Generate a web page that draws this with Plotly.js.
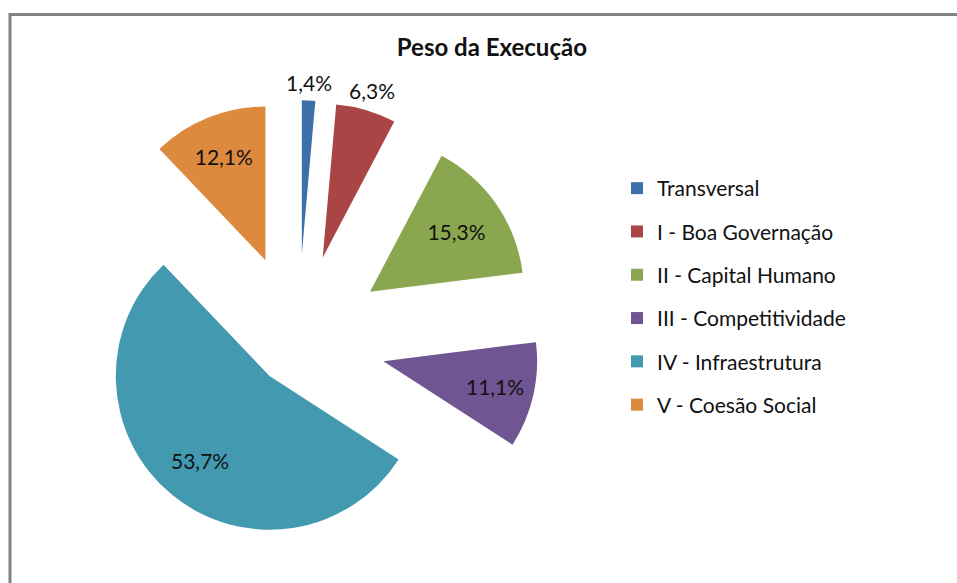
<!DOCTYPE html>
<html><head><meta charset="utf-8">
<script src="https://cdn.plot.ly/plotly-3.0.1.min.js"></script>
<style>html,body{margin:0;padding:0;background:#fff}#chart{width:957px;height:583px}</style>
</head><body><div id="chart"></div>
<script>
const categories = ['Transversal', 'I - Boa Governação', 'II - Capital Humano', 'III - Competitividade', 'IV - Infraestrutura', 'V - Coesão Social'];
const shares = [1.4, 6.3, 15.3, 11.1, 53.7, 12.1];
const colors = ['#3d6fa9', '#a94545', '#8aa74f', '#6f5591', '#4399b0', '#dd8a3f'];
const pulls = [0.57, 0.57, 0.57, 0.57, 0.29, 0.57];
const chartTitle = 'Peso da Execução';

// label placement style: native inside labels, or annotation at a radial factor (of the radius, measured from the slice apex)
const labelStyle = [
  {mode: 'annot', rf: 1.12},
  {mode: 'annot', rf: 1.13},
  {mode: 'inside'},
  {mode: 'inside'},
  {mode: 'annot', rf: 0.71},
  {mode: 'inside'}
];

const FONT = 'Lato, "Open Sans", sans-serif';
const W = 957, H = 583;
const fmt = v => v.toFixed(1).replace('.', ',') + '%';

const domain = {x: [0.0587, 0.564], y: [0, 0.828]};

const pie = {
  type: 'pie',
  labels: categories,
  values: shares,
  sort: false,
  direction: 'clockwise',
  rotation: 0,
  pull: pulls,
  marker: {colors: colors, line: {width: 0}},
  textposition: labelStyle.map(s => s.mode === 'inside' ? 'inside' : 'none'),
  texttemplate: labelStyle.map(s => s.mode === 'inside' ? '%{value:.1f}%' : ''),
  insidetextorientation: 'horizontal',
  textfont: {family: FONT, size: 21, color: '#111'},
  showlegend: false,
  hoverinfo: 'skip',
  domain: domain
};

// geometry of the pie as Plotly lays it out (same formula as the library)
const boxW = (domain.x[1] - domain.x[0]) * W;
const boxH = (domain.y[1] - domain.y[0]) * H;
const R = Math.min(boxW, boxH) / 2 / (1 + Math.max(...pulls));
const CX = W * (domain.x[0] + domain.x[1]) / 2;
const CY = H * (1 - (domain.y[0] + domain.y[1]) / 2);
const total = shares.reduce((a, b) => a + b, 0);
let cum = 0;
const annotations = [];
shares.forEach((v, i) => {
  const mid = (cum + v / 2) / total * 2 * Math.PI;
  cum += v;
  const s = labelStyle[i];
  if (s.mode !== 'annot') return;
  const d = (pulls[i] + s.rf) * R;
  annotations.push({
    xref: 'paper', yref: 'paper',
    x: (CX + d * Math.sin(mid)) / W,
    y: 1 - (CY - d * Math.cos(mid)) / H,
    xanchor: 'center', yanchor: 'middle',
    text: fmt(v), showarrow: false,
    font: {family: FONT, size: 21, color: '#111'}
  });
});

const legendTraces = categories.map((c, i) => ({
  type: 'scatter',
  mode: 'markers',
  x: [null], y: [null],
  name: c,
  legendgroup: 'g' + i,
  marker: {symbol: 'square', size: 12, color: colors[i]},
  hoverinfo: 'skip',
  showlegend: true
}));

const layout = {
  width: W, height: H,
  margin: {l: 0, r: 0, t: 0, b: 0},
  paper_bgcolor: '#fff', plot_bgcolor: '#fff',
  separators: ',.',
  font: {family: FONT, color: '#111'},
  title: {
    text: chartTitle,
    font: {family: FONT, size: 24, weight: 'bold', color: '#111'},
    x: 0.514, xanchor: 'center', xref: 'container',
    y: 1 - 48 / H, yanchor: 'middle', yref: 'container'
  },
  xaxis: {visible: false},
  yaxis: {visible: false},
  legend: {
    x: 617 / W, xanchor: 'left',
    y: 1 - 168 / H, yanchor: 'top',
    traceorder: 'grouped',
    tracegroupgap: 13,
    font: {family: FONT, size: 21, color: '#111'},
    bgcolor: 'rgba(0,0,0,0)'
  },
  annotations: annotations,
  shapes: [{
    type: 'rect', xref: 'paper', yref: 'paper',
    x0: 10 / W, x1: 1.02, y0: -0.02, y1: 1 - 14.5 / H,
    line: {color: '#828282', width: 3}
  }]
};

Plotly.newPlot('chart', [pie].concat(legendTraces), layout, {staticPlot: true, displayModeBar: false});
</script>
</body></html>
